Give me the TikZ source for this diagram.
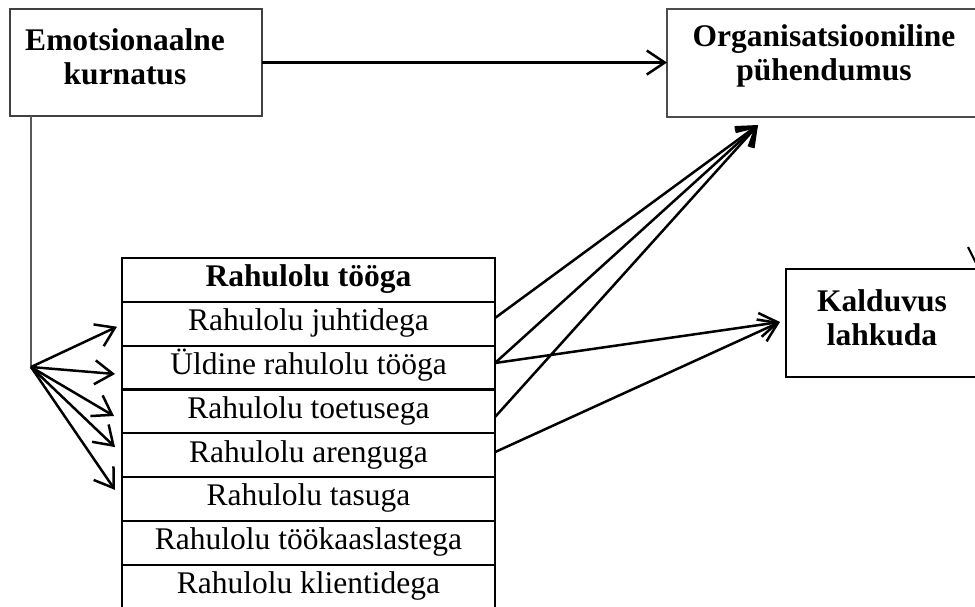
\documentclass[tikz,border=0pt]{standalone}
\usepackage{fontspec}
\setmainfont{Liberation Serif}
\usetikzlibrary{calc, positioning, arrows.meta}

\begin{document}
\begin{tikzpicture}[x=1pt, y=1pt,
  box/.style={draw, inner sep=0pt, outer sep=0pt},
  box-text/.style={font=\fontsize{31.5}{34}\selectfont\bfseries, align=center, inner sep=0pt},
  cell/.style={draw, line width=2.2pt, minimum width=373pt, minimum height=43.8pt,
    inner sep=0pt, outer sep=0pt, text height=21pt, text depth=7pt,
    font=\fontsize{31.5}{34}\selectfont},
  cell-head/.style={cell, font=\fontsize{31.5}{34}\selectfont\bfseries},
  link/.style={line width=2.5pt, -{Straight Barb[length=18pt, width=24pt]}}
]

  \clip (0,0) rectangle (975,-606);

  % outer boxes
  \node[box, line width=1.3pt, draw=black!75, minimum width=252pt, minimum height=107pt] (emo) at (136,-62.5) {};
  \node[box, line width=1.1pt, draw=black!70, minimum width=318pt, minimum height=108pt] (org) at (826,-63) {};
  \node[box, line width=1.6pt, minimum width=199pt, minimum height=108pt] (kal) at (885.5,-323) {};

  \node[box-text] (emo-label) at (125,-56.5) {Emotsionaalne\\kurnatus};
  \node[box-text] (org-label) at (824,-56) {Organisatsiooniline\\pühendumus};
  \node[box-text] (kal-label) at (882,-318) {Kalduvus\\lahkuda};

  % table of satisfaction items
  \node[cell-head] (r0) at (308.5,-279.9) {Rahulolu tööga};
  \node[cell, below=0pt of r0] (r1) {Rahulolu juhtidega};
  \node[cell, below=0pt of r1] (r2) {Üldine rahulolu tööga};
  \node[cell, below=0pt of r2] (r3) {Rahulolu toetusega};
  \node[cell, below=0pt of r3] (r4) {Rahulolu arenguga};
  \node[cell, below=0pt of r4] (r5) {Rahulolu tasuga};
  \node[cell, below=0pt of r5] (r6) {Rahulolu töökaaslastega};
  \node[cell, below=0pt of r6] (r7) {Rahulolu klientidega};

  % top arrow
  \draw[link] (emo.east) to (emo.east -| org.west);

  % fan from the left
  \coordinate (fan) at (31,-367);
  \draw[line width=1.3pt, black!65] (fan |- emo.south) to (fan);
  \draw[link] (fan) to ([xshift=-5pt, yshift=-3pt]r1.west);
  \draw[link] (fan) to ([xshift=-7pt, yshift=-6.5pt]r2.west);
  \draw[link] (fan) to ([xshift=-8pt, yshift=-4.7pt]r3.west);
  \draw[link] (fan) to ([xshift=-7pt, yshift=8pt]r4.west);
  \draw[link] (fan) to ([xshift=-7pt, yshift=9pt]r5.west);

  % arrows to the right
  \coordinate (org-in) at ($(org.south west) + (91,-8)$);
  \coordinate (kal-in) at ($(kal.west) + (-6,1)$);
  \draw[link] ([yshift=5.7pt]r1.east) to (org-in);
  \draw[link] ([yshift=4.5pt]r2.east) to (org-in);
  \draw[link] ([yshift=4.5pt]r2.east) to (kal-in);
  \draw[link] ([yshift=-5.7pt]r3.east) to (org-in);
  \draw[link] ([yshift=3pt]r4.east) to (kal-in);

  % cut-off line at the right edge
  \coordinate (edge-a) at (968,-247);
  \coordinate (edge-b) at (976,-263);
  \draw[line width=2.2pt] (edge-a) to (edge-b);

\end{tikzpicture}
\end{document}
